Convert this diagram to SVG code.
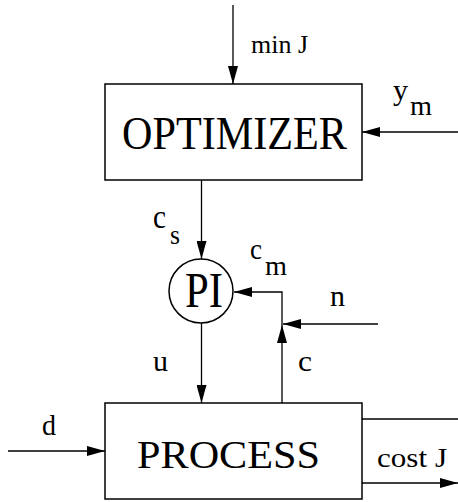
<svg xmlns="http://www.w3.org/2000/svg" width="458" height="502" viewBox="0 0 458 502">
<style>
.box{fill:#fff;stroke:#000;stroke-width:1.5}
.ln{fill:none;stroke:#000;stroke-width:1.3}
text{font-family:"Liberation Serif","Times New Roman",serif;fill:#000}
</style>
<defs>
<marker id="ah" markerUnits="userSpaceOnUse" markerWidth="18" markerHeight="10" refX="18" refY="5" orient="auto">
<path d="M0,0 L18,5 L0,10 z" fill="#000"/>
</marker>
</defs>
<rect width="458" height="502" fill="#fff"/>
<g id="connectors">
<path class="ln" d="M233,5 V84" marker-end="url(#ah)"/>
<path class="ln" d="M458,132 H362" marker-end="url(#ah)"/>
<path class="ln" d="M201.5,180 V259" marker-end="url(#ah)"/>
<path class="ln" d="M201.5,323 V403" marker-end="url(#ah)"/>
<path class="ln" d="M282,403 V325" marker-end="url(#ah)"/>
<path class="ln" d="M282,325 V292 H234" marker-end="url(#ah)"/>
<path class="ln" d="M378,324 H283" marker-end="url(#ah)"/>
<path class="ln" d="M8,451 H105" marker-end="url(#ah)"/>
<path class="ln" d="M362,419 H458"/>
<path class="ln" d="M362,483 H458" marker-end="url(#ah)"/>
</g>
<g id="optimizer">
<rect class="box" x="105" y="84" width="257" height="96"/>
<text x="122" y="149" font-size="46" textLength="225" lengthAdjust="spacingAndGlyphs">OPTIMIZER</text>
</g>
<g id="pi">
<circle class="box" cx="201" cy="291" r="32"/>
<text x="185" y="307" font-size="50" textLength="38" lengthAdjust="spacingAndGlyphs">PI</text>
</g>
<g id="process">
<rect class="box" x="105" y="403" width="257" height="96"/>
<text x="137" y="468" font-size="40" textLength="183" lengthAdjust="spacingAndGlyphs">PROCESS</text>
</g>
<g id="labels">
<text x="251" y="53" font-size="25" textLength="57" lengthAdjust="spacingAndGlyphs">min J</text>
<text x="393" y="100" font-size="30" textLength="15" lengthAdjust="spacingAndGlyphs">y</text>
<text x="410" y="115" font-size="27" textLength="22" lengthAdjust="spacingAndGlyphs">m</text>
<text x="153" y="228" font-size="33" textLength="13" lengthAdjust="spacingAndGlyphs">c</text>
<text x="170" y="244" font-size="27" textLength="10" lengthAdjust="spacingAndGlyphs">s</text>
<text x="250" y="259" font-size="30" textLength="12" lengthAdjust="spacingAndGlyphs">c</text>
<text x="265" y="275" font-size="27" textLength="22" lengthAdjust="spacingAndGlyphs">m</text>
<text x="330" y="306" font-size="30" textLength="15" lengthAdjust="spacingAndGlyphs">n</text>
<text x="153" y="371" font-size="30" textLength="15" lengthAdjust="spacingAndGlyphs">u</text>
<text x="298" y="371" font-size="30" textLength="14" lengthAdjust="spacingAndGlyphs">c</text>
<text x="42" y="435" font-size="30" textLength="14" lengthAdjust="spacingAndGlyphs">d</text>
<text x="377" y="467" font-size="28" textLength="70" lengthAdjust="spacingAndGlyphs">cost J</text>
</g>
</svg>
